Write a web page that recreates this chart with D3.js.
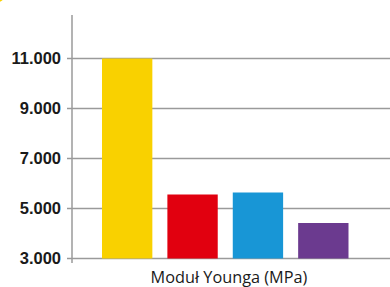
<!DOCTYPE html>
<html>
<head>
<meta charset="utf-8">
<script src="https://cdn.jsdelivr.net/npm/d3@7"></script>
<style>
  body { margin: 0; background: #fff; }
  svg { display: block; }
</style>
</head>
<body>
<div id="chart"></div>
<script>
const categories = ["A", "B", "C", "D"];
const values = [11000, 5560, 5640, 4420];
const colors = ["#F9D100", "#E1000F", "#1896D6", "#6B3A8F"];
const tickValues = [3000, 5000, 7000, 9000, 11000];
const axisTitle = "Moduł Younga (MPa)";

const width = 390, height = 287;

const svg = d3.select("#chart").append("svg")
    .attr("width", width)
    .attr("height", height);

// corner decoration
svg.append("circle")
    .attr("cx", -16).attr("cy", -26).attr("r", 32)
    .attr("fill", "#F9D100");

const y = d3.scaleLinear()
    .domain([3000, 11000])
    .range([258.5, 58.5]);

const x = d3.scaleBand()
    .domain(categories)
    .range([102, 348.5])
    .paddingInner(0.23)
    .paddingOuter(0);

const axisX = 72;

// gridlines
svg.append("g")
    .attr("stroke", "#9a9a9a")
    .attr("stroke-width", 1.5)
    .selectAll("line")
    .data(tickValues)
    .join("line")
    .attr("x1", axisX - 5)
    .attr("x2", width)
    .attr("y1", d => y(d))
    .attr("y2", d => y(d));

// y axis line
svg.append("line")
    .attr("x1", axisX).attr("x2", axisX)
    .attr("y1", 15).attr("y2", 263)
    .attr("stroke", "#9a9a9a")
    .attr("stroke-width", 1.5);

// tick labels
const fmt = d => d3.format(",")(d).replace(/,/g, ".");
svg.append("g")
    .selectAll("text")
    .data(tickValues)
    .join("text")
    .attr("x", 61)
    .attr("y", d => y(d))
    .attr("dy", "0.36em")
    .attr("text-anchor", "end")
    .attr("font-family", "Liberation Sans, Arial, sans-serif")
    .attr("font-weight", "bold")
    .attr("font-size", 16.5)
    .attr("fill", "#1a1a1a")
    .text(fmt);

// bars
svg.append("g")
    .selectAll("rect")
    .data(values)
    .join("rect")
    .attr("x", (d, i) => x(categories[i]))
    .attr("width", x.bandwidth())
    .attr("y", d => y(d))
    .attr("height", d => y(3000) - y(d))
    .attr("fill", (d, i) => colors[i]);

// axis title
svg.append("text")
    .attr("x", 229)
    .attr("y", 283)
    .attr("text-anchor", "middle")
    .attr("font-family", "Open Sans, sans-serif")
    .attr("font-size", 16.3)
    .attr("fill", "#1a1a1a")
    .text(axisTitle);
</script>
</body>
</html>
